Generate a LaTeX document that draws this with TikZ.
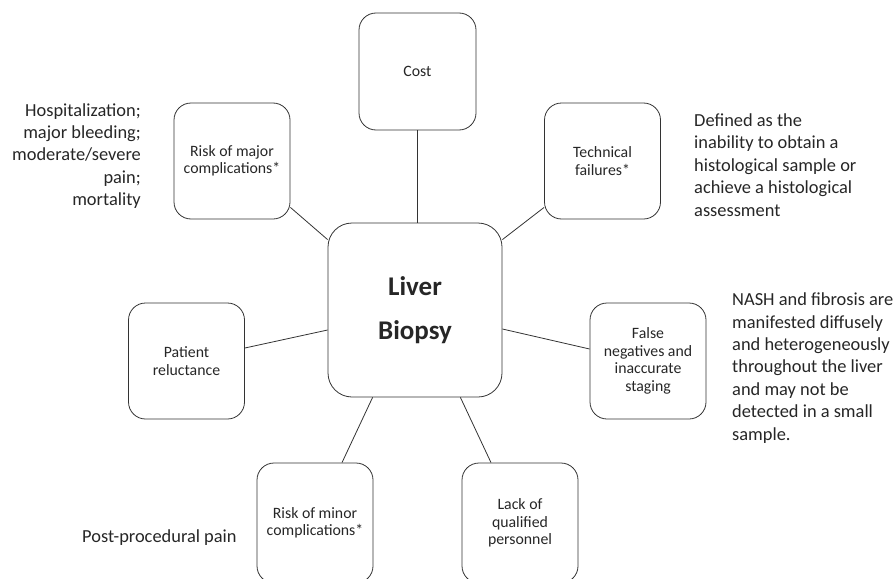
\documentclass[tikz,border=0pt]{standalone}
\usepackage{fontspec}
\setmainfont{Carlito}
\usetikzlibrary{positioning}

\begin{document}
\begin{tikzpicture}[x=1pt, y=-1pt,
  factor/.style={draw=black!80, line width=0.8pt, rounded corners=17pt, inner sep=0pt,
    minimum width=116pt, minimum height=116pt, align=center, text=black!85,
    font=\fontsize{15.8}{17.5}\selectfont},
  note/.style={inner sep=0pt, text=black!85, font=\fontsize{18.4}{22.4}\selectfont},
  link/.style={draw=black!80, line width=0.8pt}]
\useasboundingbox (0,0) rectangle (896,578);

% Nodes
\node[factor, minimum width=174pt, minimum height=174pt, rounded corners=24pt,
  font=\bfseries\fontsize{27}{44}\selectfont] (biopsy) at (415,310) {Liver\\Biopsy};
\node[factor, minimum width=117pt, minimum height=117pt] (cost) at (417.5,71.5) {Cost};
\node[factor] (rmajor) at (232,161) {Risk of major\\complications*};
\node[factor] (techfail) at (602.5,161) {Technical\\failures*};
\node[factor] (reluct) at (186.5,361) {Patient\\reluctance};
\node[factor] (falseneg) at (648,361) {False\\negatives and\\inaccurate\\staging};
\node[factor, minimum height=120pt] (rminor) at (315,523) {Risk of minor\\complications*};
\node[factor, minimum height=120pt] (personnel) at (520,523) {Lack of\\qualified\\personnel};

% Notes
\node[note, anchor=east, align=right] (majnote) at (141,156)
  {Hospitalization;\\major bleeding;\\moderate/severe\\pain;\\mortality};
\node[note, anchor=west, align=left] (technote) at (694,165)
  {Defined as the\\inability to obtain a\\histological sample or\\achieve a histological\\assessment};
\node[note, anchor=west, align=left] (nashnote) at (732,368)
  {NASH and fibrosis are\\manifested diffusely\\and heterogeneously\\throughout the liver\\and may not be\\detected in a small\\sample.};
\node[note, anchor=west] (minnote) at (82,538) {Post-procedural pain};

% Links
\draw[link] (cost.south) -- (cost.south |- biopsy.north); % cost
\draw[link] ([yshift=12pt]rmajor.south east) -- ([yshift=-17pt]biopsy.north west); % major
\draw[link] ([yshift=12pt]techfail.south west) -- ([yshift=-17pt]biopsy.north east); % technical
\draw[link] ([yshift=13pt]reluct.east) -- ([yshift=-20pt]biopsy.west); % reluctance
\draw[link] ([yshift=-19pt]biopsy.east) -- ([yshift=12pt]falseneg.west); % false negatives
\draw[link] ([xshift=45pt]biopsy.south west) -- ([xshift=27pt]rminor.north); % minor
\draw[link] ([xshift=-42pt]biopsy.south east) -- ([xshift=-29pt]personnel.north); % personnel

\end{tikzpicture}
\end{document}
